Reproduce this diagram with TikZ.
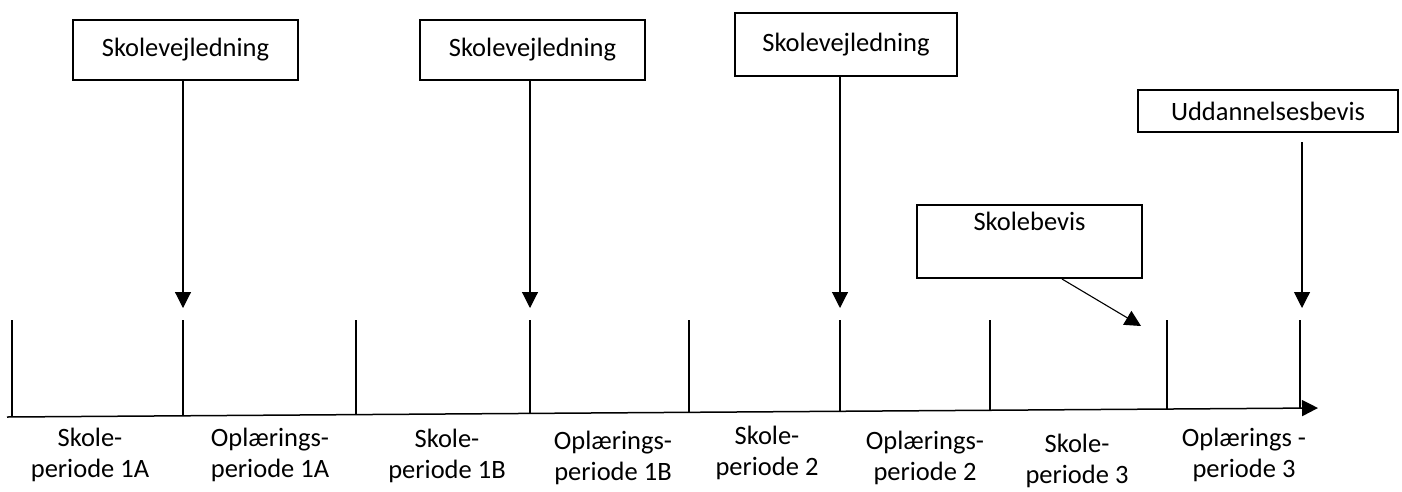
\documentclass[tikz,border=0pt]{standalone}
\usepackage{fontspec}
\setmainfont{Carlito}
\usetikzlibrary{arrows.meta}
\begin{document}
\begin{tikzpicture}[x=1pt,y=-1pt,
  txt/.style={font=\fontsize{26.5}{31}\selectfont},
  box/.style={draw, line width=1.3pt, inner sep=0pt, txt},
  thickbox/.style={box, line width=2.4pt},
  tri/.style={line width=1.1pt, -{Triangle[width=16pt,length=16pt]}},
  tick/.style={line width=1.1pt},
  lab/.style={align=center, inner sep=0pt, txt}]
\useasboundingbox (0,0) rectangle (1402,491);
% boxes
\node[box, minimum width=225pt, minimum height=60pt] (b1) at (185.5,50) {Skolevejledning};
\node[box, minimum width=225pt, minimum height=60pt] (b2) at (532.5,50) {Skolevejledning};
\node[box, minimum width=222pt, minimum height=63pt] (b3) at (846,44.5) {Skolevejledning};
\node[thickbox, minimum width=260pt, minimum height=42pt] (ud) at (1268,111) {Uddannelsesbevis};
\node[box, minimum width=225pt, minimum height=73pt] (sb) at (1029.5,241.5) {};
\node[txt, inner sep=0pt] (sbt) at (1029.5,221) {Skolebevis};
% axis
\coordinate (a0) at (7,417);
\coordinate (a1) at (1318,408);
\draw[tri, line width=1.5pt] (a0) -- (a1);
% ticks
\foreach \x/\yb [count=\i] in {12/417,183/415.8,356/414.6,530/413.4,689/412.3,840/411.3,990/410.2,1167/409,1300/408.1}{
  \coordinate (t\i) at (\x,320);
  \coordinate (u\i) at (\x,\yb);
  \draw[tick] (t\i) -- (u\i);
}
% arrow tips
\coordinate (p1) at (183,308);
\coordinate (p2) at (530,308);
\coordinate (p3) at (840,308);
\coordinate (p4) at (1302,308);
\coordinate (q4) at (1302,142);
\coordinate (sbs) at (1062,279);
\coordinate (sbe) at (1141,326);
\draw[tri] (b1.south -| p1) -- (p1);
\draw[tri] (b2.south -| p2) -- (p2);
\draw[tri] (b3.south -| p3) -- (p3);
\draw[tri] (q4) -- (p4);
\draw[tri] (sbs) -- (sbe);
% labels
\node[lab] (l1) at (90,455) {Skole-\\periode 1A};
\node[lab] (l2) at (270,455) {Oplærings-\\periode 1A};
\node[lab] (l3) at (447,456) {Skole-\\periode 1B};
\node[lab] (l4) at (613,458) {Oplærings-\\periode 1B};
\node[lab] (l5) at (767,453) {Skole-\\periode 2};
\node[lab] (l6) at (925,458) {Oplærings-\\periode 2};
\node[lab] (l7) at (1077,461) {Skole-\\periode 3};
\node[lab] (l8) at (1244,455) {Oplærings -\\periode 3};
\end{tikzpicture}
\end{document}
